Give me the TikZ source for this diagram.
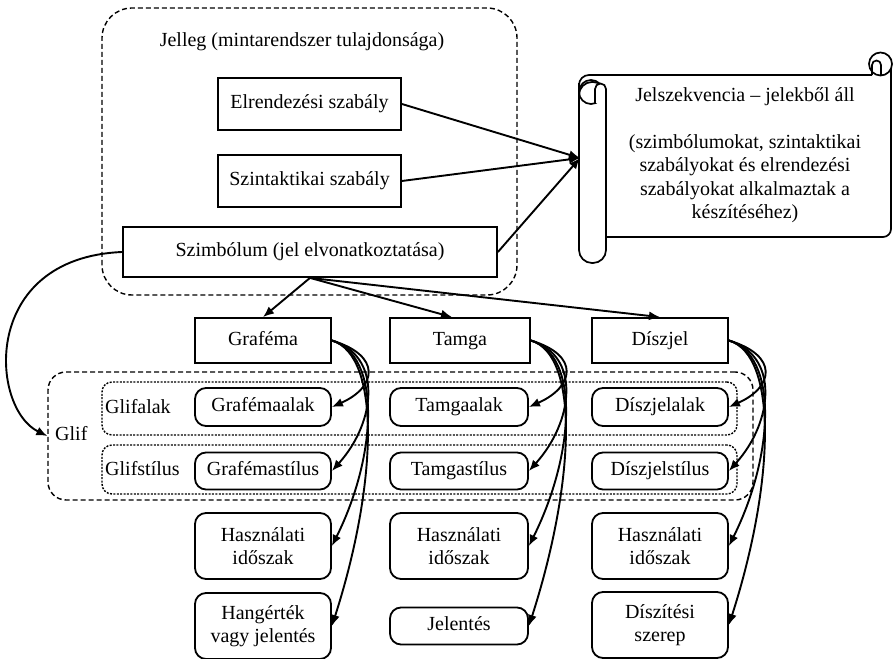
\documentclass[tikz,border=0pt]{standalone}
\usepackage{fontspec}
\setmainfont{Liberation Serif}
\usepackage{tikz}
\usetikzlibrary{arrows.meta, calc, positioning}

\newcommand{\lblfont}{\fontsize{20}{23.5}\selectfont}

\tikzset{
	box/.style = {draw, line width = 1.8pt, inner sep = 0pt, align = center, font = \lblfont},
	oneline/.style = {text height = 14pt, text depth = 4.5pt},
	pill/.style = {box, rounded corners = 11pt, minimum width = 136pt},
	arr/.style = {-{Latex[length = 11pt, width = 9pt]}, line width = 1.9pt},
	bigdash/.style = {draw, line width = 1.4pt, dash pattern = on 5pt off 3pt, rounded corners = 18pt, inner sep = 0pt},
	smalldash/.style = {draw, line width = 1.4pt, dash pattern = on 2pt off 1.4pt, rounded corners = 10pt, inner sep = 0pt},
	lbl/.style = {font = \lblfont, inner sep = 0pt}
}

\begin{document}
\begin{tikzpicture}[x = 1pt, y = 1pt]

		\useasboundingbox (0, 0) rectangle (893, 658);

		% Jelleg frame
		\draw[bigdash, rounded corners = 30pt] (102, 363) rectangle (517, 650);
		\node[lbl] (jelleg) at (302, 616) {Jelleg (mintarendszer tulajdonsága)};

		% rules and symbol
		\node[box, oneline, minimum width = 183pt, minimum height = 52pt] (elr) at (309.5, 554) {Elrendezési szabály};
		\node[box, oneline, minimum width = 183pt, minimum height = 52pt] (szint) at (309.5, 477) {Szintaktikai szabály};
		\node[box, oneline, minimum width = 374pt, minimum height = 50pt] (szimb) at (310, 406) {Szimbólum (jel elvonatkoztatása)};

		% scroll
		\begin{scope}[line width = 1.7pt]
			\draw[rounded corners = 8pt] (600, 421) -- (891, 421) -- (891, 590);
			\draw[rounded corners = 10pt] (872, 583) -- (579, 583) -- (579, 560);
			\draw[fill = white] (880.5, 594) circle (11.5);
			\draw (872, 583) -- (872, 593) arc (180:0:4.5) -- (881, 583);
			\draw[fill = white, rounded corners = 13pt] (579, 395) rectangle (606, 576);
			\draw (591, 566) circle (12);
			\draw[fill = white] (595, 555) -- (595, 569) arc (180:0:5.5) -- (606, 555);
			\draw (579, 560) -- (579, 575);
		\end{scope}
		\node[lbl, align = center] (seq) at (745, 503) {Jelszekvencia -- jelekből áll\\[23.5pt]
			(szimbólumokat, szintaktikai\\szabályokat és elrendezési\\szabályokat alkalmaztak a\\készítéséhez)};
		\coordinate (seqin) at (580, 500);

		% sign kinds
		\node[box, oneline, minimum width = 136pt, minimum height = 45pt] (graf) at (263, 317.5) {Graféma};
		\node[box, oneline, minimum width = 140pt, minimum height = 45pt] (tamga) at (460, 317.5) {Tamga};
		\node[box, oneline, minimum width = 136pt, minimum height = 45pt] (diszjel) at (660, 317.5) {Díszjel};

		% glyph frames
		\node[bigdash, minimum width = 705pt, minimum height = 128pt] (glif) at (400.5, 222) {};
		\node[smalldash, minimum width = 635pt, minimum height = 53pt] (glifalak) at (419.5, 249.5) {};
		\node[smalldash, minimum width = 635pt, minimum height = 49pt] (glifstil) at (419.5, 188.5) {};
		\node[lbl, anchor = west] (glifl) at (55, 224) {Glif};
		\node[lbl, anchor = west] (glifalakl) at (105, 251) {Glifalak};
		\node[lbl, anchor = west] (glifstill) at (105, 189) {Glifstílus};

		% properties
		\node[pill, oneline, minimum height = 38pt] (graf-alak) at (263, 251) {Grafémaalak};
		\node[pill, oneline, minimum height = 37pt] (graf-stil) at (263, 187) {Grafémastílus};
		\node[pill, minimum height = 66pt] (graf-hasz) at (263, 112) {Használati\\időszak};
		\node[pill, minimum height = 66pt] (graf-jel) at (263, 32) {Hangérték\\vagy jelentés};

		\node[pill, oneline, minimum width = 138pt, minimum height = 38pt] (tamga-alak) at (459, 251) {Tamgaalak};
		\node[pill, oneline, minimum width = 138pt, minimum height = 37pt] (tamga-stil) at (459, 187) {Tamgastílus};
		\node[pill, minimum width = 138pt, minimum height = 66pt] (tamga-hasz) at (459, 112) {Használati\\időszak};
		\node[pill, oneline, minimum width = 138pt, minimum height = 37pt] (tamga-jel) at (459, 32) {Jelentés};

		\node[pill, oneline, minimum height = 38pt] (diszjel-alak) at (660, 251) {Díszjelalak};
		\node[pill, oneline, minimum height = 37pt] (diszjel-stil) at (660, 187) {Díszjelstílus};
		\node[pill, minimum height = 66pt] (diszjel-hasz) at (660, 112) {Használati\\időszak};
		\node[pill, minimum height = 66pt] (diszjel-jel) at (660, 33) {Díszítési\\szerep};

		% links into the sequence
		\draw[arr] (elr.east) -- (seqin);
		\draw[arr] (szint.east) -- (seqin);
		\draw[arr] (szimb.east) -- (seqin);

		% links from the symbol
		\draw[arr] (szimb.south) -- (graf.north);
		\draw[arr] (szimb.south) -- ($(tamga.north) + (-8, 0)$);
		\draw[arr] (szimb.south) -- (diszjel.north);
		\draw[arr] (szimb.west) .. controls (-20, 400) and (-10, 250) .. (glif.west);

		% fans to the properties
		\foreach \kind in {graf, tamga, diszjel} {
			\foreach \prop/\k in {alak/20, stil/50, hasz/90, jel/140} {
				\draw[arr] (\kind.east) .. controls +(50, -15) and +(45, \k) .. (\kind-\prop.east);
			}
		}

	\end{tikzpicture}
\end{document}
